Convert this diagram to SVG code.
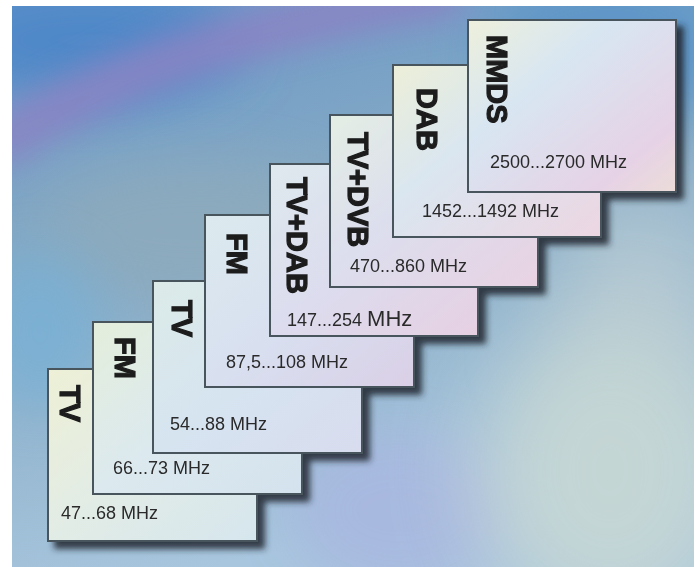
<svg xmlns="http://www.w3.org/2000/svg" width="700" height="567" viewBox="0 0 700 567">
<defs>
<linearGradient id="bgBase" x1="0" y1="0" x2="0.3" y2="1">
<stop offset="0" stop-color="#6a98c8"/>
<stop offset="0.45" stop-color="#86aac4"/>
<stop offset="1" stop-color="#a8c6de"/>
</linearGradient>
<filter id="blurBig" x="-50%" y="-50%" width="200%" height="200%"><feGaussianBlur stdDeviation="28"/></filter>
<filter id="blurHuge" x="-60%" y="-60%" width="220%" height="220%"><feGaussianBlur stdDeviation="45"/></filter>
<filter id="blurMid" x="-50%" y="-50%" width="200%" height="200%"><feGaussianBlur stdDeviation="16"/></filter>
<filter id="stackShadow" x="-10%" y="-10%" width="130%" height="130%">
<feDropShadow dx="7" dy="7" stdDeviation="3" flood-color="#1a262e" flood-opacity="0.85"/>
</filter>
<clipPath id="frame"><rect x="12" y="6" width="682" height="561"/></clipPath>
<linearGradient id="g1" x1="0" y1="0" x2="1" y2="1"><stop offset="0" stop-color="#eef0d6"/><stop offset="0.5" stop-color="#e2ece6"/><stop offset="1" stop-color="#d6e6ee"/></linearGradient>
<linearGradient id="g2" x1="0" y1="0" x2="1" y2="1"><stop offset="0" stop-color="#e4eedc"/><stop offset="0.5" stop-color="#dce9ee"/><stop offset="1" stop-color="#d4e2ee"/></linearGradient>
<linearGradient id="g3" x1="0" y1="0" x2="1" y2="1"><stop offset="0" stop-color="#dcebe8"/><stop offset="0.5" stop-color="#d6e4f0"/><stop offset="1" stop-color="#d8dcee"/></linearGradient>
<linearGradient id="g4" x1="0" y1="0" x2="1" y2="1"><stop offset="0" stop-color="#dceaee"/><stop offset="0.5" stop-color="#d8e0f0"/><stop offset="1" stop-color="#dacfe6"/></linearGradient>
<linearGradient id="g5" x1="0" y1="0" x2="1" y2="1"><stop offset="0" stop-color="#dee9ee"/><stop offset="0.5" stop-color="#dcdcee"/><stop offset="1" stop-color="#e6d0e2"/></linearGradient>
<linearGradient id="g6" x1="0" y1="0" x2="1" y2="1"><stop offset="0" stop-color="#e4eee4"/><stop offset="0.45" stop-color="#dcdeee"/><stop offset="1" stop-color="#e8d2e2"/></linearGradient>
<linearGradient id="g7" x1="0" y1="0" x2="1" y2="1"><stop offset="0" stop-color="#ecefd8"/><stop offset="0.4" stop-color="#dae6f0"/><stop offset="1" stop-color="#ecd6e2"/></linearGradient>
<linearGradient id="g8" x1="0" y1="0" x2="1" y2="1"><stop offset="0" stop-color="#eef0dc"/><stop offset="0.35" stop-color="#d8e6f2"/><stop offset="0.8" stop-color="#e6d2e6"/><stop offset="1" stop-color="#ecdcd8"/></linearGradient>
<style>
.card{stroke:#4a545c;stroke-width:2}
.lbl{font-family:"Liberation Sans",Arial,sans-serif;font-weight:bold;font-size:29px;fill:#1c1c1c;stroke:#1c1c1c;stroke-width:1.2}
.frq{font-family:"Liberation Sans",Arial,sans-serif;font-size:18px;fill:#2a2a2a}
.big{font-size:22px}
</style>
</defs>
<rect width="700" height="567" fill="#ffffff"/>
<g id="background" clip-path="url(#frame)">
<rect x="12" y="6" width="682" height="561" fill="url(#bgBase)"/>
<ellipse cx="90" cy="40" rx="150" ry="60" fill="#4f88c8" filter="url(#blurBig)"/>
<ellipse cx="610" cy="50" rx="120" ry="80" fill="#5e96c8" filter="url(#blurBig)"/>
<path d="M -10 150 Q 150 40 460 -10" fill="none" stroke="#8a84c4" stroke-width="50" filter="url(#blurMid)" opacity="0.9"/>
<ellipse cx="200" cy="230" rx="170" ry="70" fill="#8eaabc" filter="url(#blurBig)" opacity="0.8"/>
<ellipse cx="40" cy="330" rx="60" ry="80" fill="#78b0d6" filter="url(#blurBig)" opacity="0.8"/>
<ellipse cx="400" cy="510" rx="110" ry="80" fill="#a8b8e0" filter="url(#blurBig)" opacity="0.9"/>
<ellipse cx="640" cy="300" rx="80" ry="110" fill="#b4c8d2" filter="url(#blurHuge)"/>
<ellipse cx="610" cy="470" rx="130" ry="150" fill="#c8d8d4" filter="url(#blurHuge)" opacity="0.9"/>
</g>
<g id="cards" filter="url(#stackShadow)">
<g id="card1">
<rect class="card" x="48" y="369" width="209" height="172" fill="url(#g1)"/>
<text class="lbl" transform="translate(60,385) rotate(90)">TV</text>
<text class="frq" x="61" y="519">47...68 MHz</text>
</g>
<g id="card2">
<rect class="card" x="93" y="322" width="209" height="172" fill="url(#g2)"/>
<text class="lbl" transform="translate(115,337) rotate(90)">FM</text>
<text class="frq" x="113" y="474">66...73 MHz</text>
</g>
<g id="card3">
<rect class="card" x="153" y="281" width="209" height="172" fill="url(#g3)"/>
<text class="lbl" transform="translate(172,300) rotate(90)">TV</text>
<text class="frq" x="170" y="430">54...88 MHz</text>
</g>
<g id="card4">
<rect class="card" x="205" y="215" width="209" height="172" fill="url(#g4)"/>
<text class="lbl" transform="translate(227,233) rotate(90)">FM</text>
<text class="frq" x="226" y="368">87,5...108 MHz</text>
</g>
<g id="card5">
<rect class="card" x="270" y="164" width="208" height="172" fill="url(#g5)"/>
<text class="lbl" transform="translate(287,177) rotate(90)">TV+DAB</text>
<text class="frq" x="287" y="326">147...254 <tspan class="big">MHz</tspan></text>
</g>
<g id="card6">
<rect class="card" x="330" y="115" width="208" height="172" fill="url(#g6)"/>
<text class="lbl" transform="translate(348,132) rotate(90)">TV+DVB</text>
<text class="frq" x="350" y="272">470...860 MHz</text>
</g>
<g id="card7">
<rect class="card" x="393" y="65" width="208" height="172" fill="url(#g7)"/>
<text class="lbl" transform="translate(417,88) rotate(90)">DAB</text>
<text class="frq" x="422" y="217">1452...1492 MHz</text>
</g>
<g id="card8">
<rect class="card" x="468" y="20" width="208" height="172" fill="url(#g8)"/>
<text class="lbl" transform="translate(487,35) rotate(90)">MMDS</text>
<text class="frq" x="490" y="168">2500...2700 MHz</text>
</g>
</g>
<g id="connectors"/>
</svg>
